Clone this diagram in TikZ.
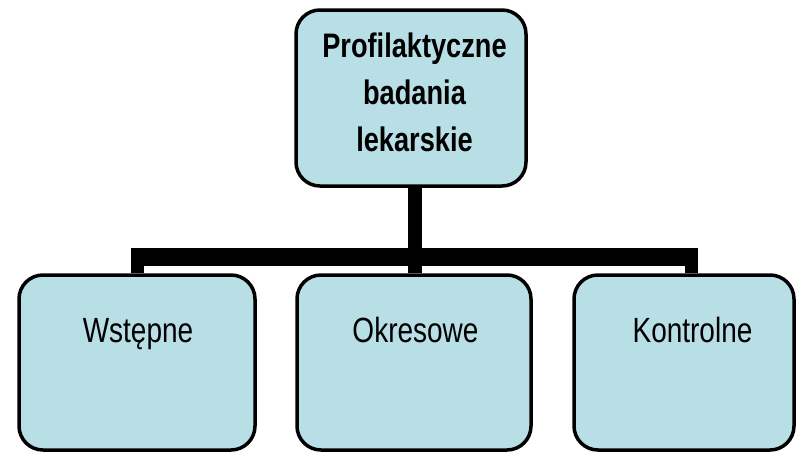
\documentclass[tikz,border=0pt]{standalone}
\usepackage{fontspec}
\setmainfont{Liberation Sans}
\newfontfamily\condfont[FakeStretch=0.8]{Liberation Sans}
\definecolor{boxfill}{RGB}{184,223,229}
\begin{document}
\begin{tikzpicture}[x=1pt,y=-1pt,
  box/.style={draw=black,line width=3.5pt,fill=boxfill,rounded corners=24pt,inner sep=0pt},
  toplabel/.style={font=\condfont\bfseries\fontsize{34}{47}\selectfont,align=center,inner sep=0pt,anchor=base},
  sublabel/.style={font=\condfont\fontsize{35}{40}\selectfont,anchor=base,inner sep=0pt},
  drop/.style={line width=13.5pt},
  barline/.style={line width=18pt,shorten <=-6.5pt,shorten >=-6.5pt}]
\useasboundingbox (0,0) rectangle (797,453);
\fill[white] (0,0) rectangle (797,453);
% boxes
\node[box,minimum width=230pt,minimum height=176pt] (top) at (411,98) {};
\node[toplabel] (toptext) at (414.5,151) {Profilaktyczne\\badania\\lekarskie};
\node[box,minimum width=236pt,minimum height=175pt] (wst) at (137,362.5) {};
\node[box,minimum width=234pt,minimum height=175pt] (okr) at (414,362.5) {};
\node[box,minimum width=220pt,minimum height=175pt] (kon) at (684,362.5) {};
\node[sublabel] (wsttext) at (138,342) {Wstępne};
\node[sublabel] (okrtext) at (415.5,342) {Okresowe};
\node[sublabel] (kontext) at (692.5,342) {Kontrolne};
% junctions
\coordinate (jl) at (137.5,257);
\coordinate (jm) at (415,257);
\coordinate (jr) at (691.5,257);
% connectors
\draw[drop] (jm |- top.south) -- (jm);
\draw[barline] (jl) -- (jr);
\draw[drop] (jl) -- (jl |- wst.north);
\draw[drop] (jm) -- (jm |- okr.north);
\draw[drop] (jr) -- (jr |- kon.north);
\end{tikzpicture}
\end{document}
